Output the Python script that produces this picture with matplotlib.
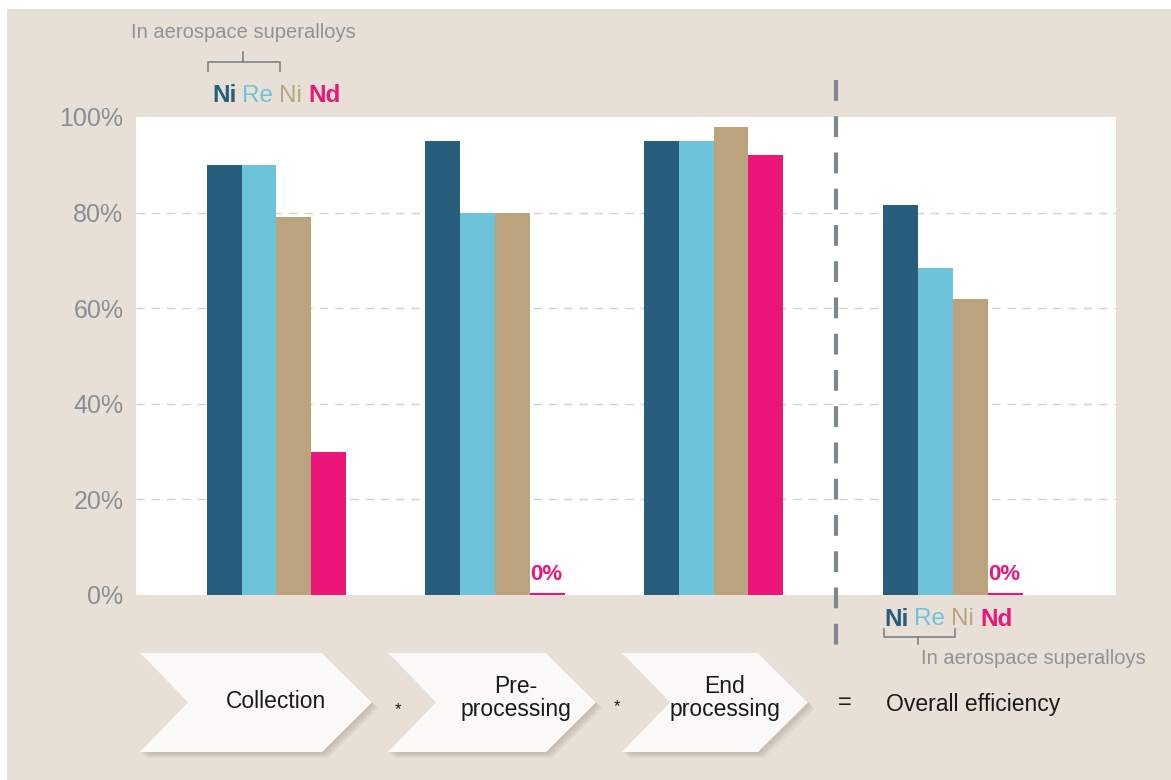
import matplotlib
matplotlib.use("Agg")
import matplotlib.pyplot as plt
from matplotlib.patches import Polygon, Rectangle
from matplotlib.lines import Line2D
import numpy as np

plt.rcParams['font.family'] = ['Liberation Sans', 'DejaVu Sans']

# ---- data ----
stages = ["Collection", "Pre-\nprocessing", "End\nprocessing", "Overall efficiency"]
series = ["Ni", "Re", "Ni", "Nd"]
ni_super = [90, 95, 95, 81.5]
re_super = [90, 80, 95, 68.5]
ni_other = [79, 80, 98, 62]
nd = [30, 0, 92, 0]
yticks = [0, 20, 40, 60, 80, 100]
ytick_labels = ["0%", "20%", "40%", "60%", "80%", "100%"]

colors = ["#275e7d", "#6dc4da", "#baa37d", "#ec1679"]
bg = "#e8e0d7"
W, H = 1171, 780

fig = plt.figure(figsize=(W / 100, H / 100), dpi=100)
fig.patch.set_facecolor("white")
fig.patches.append(Rectangle((7 / W, 0), 1 - 7 / W, 1 - 9 / H, transform=fig.transFigure,
                             facecolor=bg, edgecolor="none", zorder=-10))

def fx(px):
    return px / W

def fy(py):
    return 1 - py / H

ax_left, ax_right, ax_top, ax_bot = 136, 1116, 117, 595
ax = fig.add_axes([fx(ax_left), fy(ax_bot), fx(ax_right - ax_left), (ax_bot - ax_top) / H])
ax.set_facecolor("white")

group_x = np.array([0, 1, 2, 3.096])
bw = 0.16
vals = [ni_super, re_super, ni_other, nd]
for i, (v, c) in enumerate(zip(vals, colors)):
    xs = group_x + (i - 1.5) * bw
    ax.bar(xs, v, width=bw, color=c, zorder=3, linewidth=0)
    for x, val in zip(xs, v):
        if val == 0:
            ax.plot([x - bw / 2, x + bw / 2], [0.15, 0.15], color=c, lw=1.5, zorder=4,
                    solid_capstyle="butt")
            ax.text(x - bw / 2, 2.0, "0%", color=c, fontsize=16, fontweight="bold",
                    ha="left", va="bottom", zorder=5)

ax.set_xlim(-0.643, 3.842)
ax.set_ylim(0, 100)
ax.set_yticks(yticks)
ax.set_yticklabels(ytick_labels)
ax.tick_params(axis="y", length=0, pad=9, labelsize=18, labelcolor="#8a8e94")
ax.set_xticks([])
for s in ax.spines.values():
    s.set_visible(False)
for yv in yticks[1:-1]:
    ax.axhline(yv, color="#d2d2d2", lw=1, ls=(0, (6, 5)), zorder=1)

# vertical dashed separator
fig.lines.append(Line2D([fx(836), fx(836)], [fy(80), fy(656)], transform=fig.transFigure,
                        color="#7f878d", lw=3, ls=(0, (5, 3.7)), zorder=20))

# top legend
gray = "#8f9398"
fig.text(fx(243), fy(32), "In aerospace superalloys", color=gray, fontsize=14.5,
         ha="center", va="center")
fig.lines.append(Line2D([fx(208), fx(208), fx(280), fx(280)], [fy(71), fy(62), fy(62), fy(71)],
                        transform=fig.transFigure, color="#7d8185", lw=1.2))
fig.lines.append(Line2D([fx(243), fx(243)], [fy(62), fy(52)], transform=fig.transFigure,
                        color="#7d8185", lw=1.2))

def legend_row(x0, y, size):
    x = x0
    r = fig.canvas.get_renderer()
    for lab, c in zip(series, colors):
        t = fig.text(fx(x), fy(y), lab, color=c, fontsize=size,
                     fontweight="bold" if c in (colors[0], colors[3]) else "normal",
                     ha="left", va="center")
        bb = t.get_window_extent(renderer=r)
        x += bb.width + 6

legend_row(212, 96, 17.5)
legend_row(884, 619, 17.5)

# bottom bracket
fig.lines.append(Line2D([fx(884), fx(884), fx(955), fx(955)], [fy(629), fy(637), fy(637), fy(629)],
                        transform=fig.transFigure, color="#7d8185", lw=1.2))
fig.lines.append(Line2D([fx(918), fx(918)], [fy(637), fy(644)], transform=fig.transFigure,
                        color="#7d8185", lw=1.2))
fig.text(fx(1033), fy(659), "In aerospace superalloys", color=gray, fontsize=14.5,
         ha="center", va="center")

# chevrons
def chevron(x0, x1, y0, y1, notch, tip):
    ym = (y0 + y1) / 2
    return [(x0, y0), (x1 - tip, y0), (x1, ym), (x1 - tip, y1), (x0, y1), (x0 + notch, ym)]

chevs = [(140, 372), (388, 596), (622, 808)]
for (a, b) in chevs:
    pts = chevron(a, b, 653, 752, 48, 50)
    for k, al in [(6, 0.25), (4, 0.35), (2, 0.45)]:
        sh = [(fx(px + k), fy(py + k)) for px, py in pts]
        fig.patches.append(Polygon(sh, closed=True, transform=fig.transFigure,
                                   facecolor="#bdb2a6", edgecolor="none", alpha=al, zorder=1))
    pp = [(fx(px), fy(py)) for px, py in pts]
    fig.patches.append(Polygon(pp, closed=True, transform=fig.transFigure,
                               facecolor="#fbfaf8", edgecolor="none", zorder=2))

txt_pos = [(276, 701), (516, 698), (725, 698)]
for (px, py), lab in zip(txt_pos, stages[:3]):
    fig.text(fx(px), fy(py), lab, fontsize=16.5, color="#1a1a1a", ha="center", va="center",
             linespacing=1.0, zorder=5)
fig.text(fx(398), fy(710), "*", fontsize=12, color="#1a1a1a", ha="center", va="center")
fig.text(fx(617), fy(707), "*", fontsize=12, color="#1a1a1a", ha="center", va="center")
fig.text(fx(845), fy(703), "=", fontsize=17, color="#1a1a1a", ha="center", va="center")
fig.text(fx(886), fy(704), stages[3], fontsize=16.5, color="#1a1a1a", ha="left", va="center")

fig.savefig("out.png", dpi=100, facecolor=fig.get_facecolor())
